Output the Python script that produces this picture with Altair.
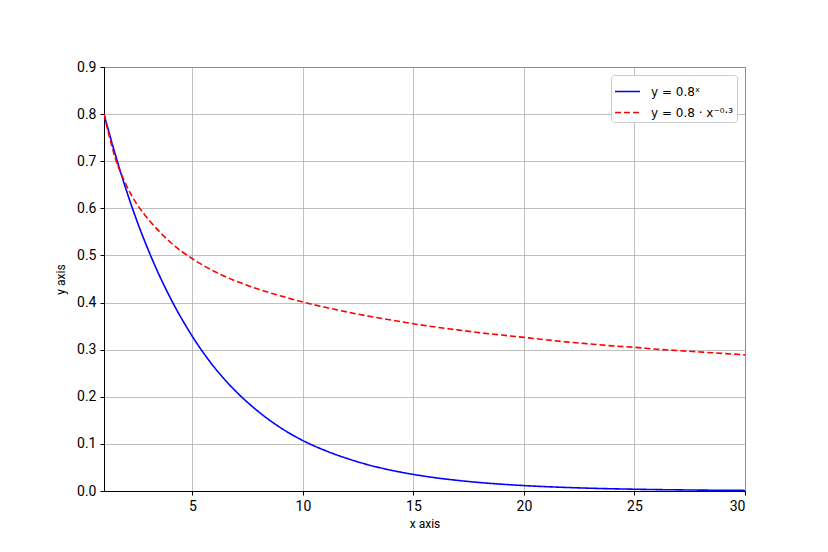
import altair as alt
import pandas as pd

x_vals = [1, 1.5, 2, 2.5, 3, 3.5, 4, 5, 6, 7, 8, 9, 10, 11, 12, 13, 14, 15, 16, 17, 18, 19, 20,
          21, 22, 23, 24, 25, 26, 27, 28, 29, 30]
blue_vals = [0.80, 0.716, 0.64, 0.572, 0.512, 0.458, 0.41, 0.328, 0.262, 0.21, 0.168, 0.134, 0.107, 0.086, 0.069, 0.055,
             0.044, 0.0352, 0.0281, 0.0225, 0.018, 0.0144, 0.0115,
             0.0092, 0.0074, 0.0059, 0.0047, 0.0038, 0.003, 0.0024, 0.0019, 0.0015, 0.0012]
red_vals = [0.80, 0.708, 0.65, 0.608, 0.577, 0.551, 0.528, 0.493, 0.466, 0.445, 0.428, 0.414, 0.401, 0.390, 0.380, 0.371,
            0.363, 0.355, 0.348, 0.342, 0.336, 0.331, 0.326,
            0.321, 0.316, 0.312, 0.308, 0.305, 0.301, 0.298, 0.295, 0.292, 0.289]
series_names = ["y = 0.8ˣ", "y = 0.8 · x⁻⁰·³"]

rows = []
for xv, b in zip(x_vals, blue_vals):
    rows.append({"x": xv, "y": b, "s": series_names[0]})
for xv, r in zip(x_vals, red_vals):
    rows.append({"x": xv, "y": r, "s": series_names[1]})
df = pd.DataFrame(rows)

FONT = "Roboto"
LFONT = "DejaVu Sans"

chart = alt.Chart(df).mark_line(strokeWidth=1.6, interpolate="monotone", clip=True).encode(
    x=alt.X("x:Q", scale=alt.Scale(domain=[1, 30], nice=False, zero=False),
            axis=alt.Axis(values=[5, 10, 15, 20, 25, 30], title="x axis")),
    y=alt.Y("y:Q", scale=alt.Scale(domain=[0, 0.9], nice=False),
            axis=alt.Axis(values=[0, 0.1, 0.2, 0.3, 0.4, 0.5, 0.6, 0.7, 0.8, 0.9], format=".1f", title="y axis")),
    color=alt.Color("s:N", scale=alt.Scale(domain=series_names, range=["#0000ff", "#ff0000"]),
                    legend=alt.Legend(title=None, orient="top-right", symbolType="stroke",
                                      symbolStrokeWidth=1.6, symbolSize=625,
                                      labelFont=LFONT, labelFontSize=12, labelOffset=10,
                                      strokeColor="#cccccc", fillColor="white", padding=3,
                                      cornerRadius=3, offset=8, rowPadding=1)),
    strokeDash=alt.StrokeDash("s:N", scale=alt.Scale(domain=series_names, range=[[1, 0], [6, 3]]), legend=None),
).properties(
    width=641, height=424,
    autosize=alt.AutoSizeParams(type="none"),
    padding={"left": 96, "top": 59, "right": 75, "bottom": 53},
).configure_view(
    stroke="black", strokeWidth=1
).configure_axis(
    grid=True, gridColor="#b0b0b0", gridWidth=0.8,
    domainColor="black", tickColor="black", tickSize=4,
    labelFont=FONT, labelFontSize=14, labelColor="black",
    titleFont=FONT, titleFontSize=12, titleFontWeight="normal", titleColor="black",
    labelPadding=4,
).configure_axisX(titlePadding=5).configure_axisY(titlePadding=9)

chart.save("out.html", embed_options={"renderer": "svg", "actions": False})
